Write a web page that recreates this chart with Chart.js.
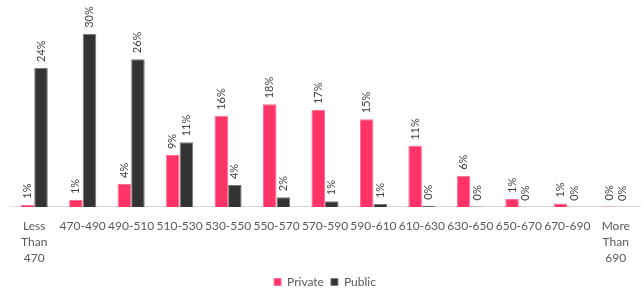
<!DOCTYPE html>
<html>
<head>
<meta charset="utf-8">
<script src="https://cdn.jsdelivr.net/npm/chart.js@4"></script>
<style>
html,body{margin:0;padding:0;background:#fff;}
canvas{display:block;}
</style>
</head>
<body>
<canvas id="c" width="643" height="291"></canvas>
<script>
const categories = [["Less","Than","470"],"470-490","490-510","510-530","530-550","550-570","570-590","590-610","610-630","630-650","650-670","670-690",["More","Than","690"]];
const privateValues = [0.4,1.2,4.0,9.0,15.8,17.8,16.8,15.2,10.6,5.4,1.4,0.6,0.1];
const publicValues = [24.1,30.0,25.6,11.2,3.8,1.7,1.0,0.5,0.2,0.1,0.05,0.03,0.02];
const privateLabels = ["1%","1%","4%","9%","16%","18%","17%","15%","11%","6%","1%","1%","0%"];
const publicLabels = ["24%","30%","26%","11%","4%","2%","1%","1%","0%","0%","0%","0%","0%"];
const seriesNames = ["Private","Public"];

const FONT = "Lato, 'Noto Sans', sans-serif";

const barLabels = {
  id: 'barLabels',
  afterDatasetsDraw(chart) {
    const ctx = chart.ctx;
    const all = [privateLabels, publicLabels];
    chart.data.datasets.forEach((ds, di) => {
      const meta = chart.getDatasetMeta(di);
      meta.data.forEach((el, i) => {
        ctx.save();
        ctx.translate(el.x, el.y - 6);
        ctx.rotate(-Math.PI / 2);
        ctx.font = "11px " + FONT;
        ctx.fillStyle = "#404040";
        ctx.textAlign = "left";
        ctx.textBaseline = "middle";
        ctx.fillText(all[di][i], 0, 0);
        ctx.restore();
      });
    });
  }
};

new Chart(document.getElementById('c'), {
  type: 'bar',
  data: {
    labels: categories,
    datasets: [
      {label: seriesNames[0], data: privateValues, backgroundColor: '#ff3366', borderColor: '#ff6f96', borderWidth: 1, categoryPercentage: 0.56, barPercentage: 1},
      {label: seriesNames[1], data: publicValues, backgroundColor: '#333333', borderColor: '#7a7a7a', borderWidth: 1, categoryPercentage: 0.56, barPercentage: 1}
    ]
  },
  options: {
    responsive: false,
    animation: false,
    devicePixelRatio: 1,
    layout: {padding: {top: 5, left: 10, right: 3, bottom: -7}},
    scales: {
      y: {display: false, min: 0, max: 35},
      x: {
        grid: {display: false},
        border: {display: true, color: '#d9d9d9'},
        ticks: {color: '#595959', font: {family: FONT, size: 12, lineHeight: 1.3334}, maxRotation: 0, autoSkip: false, padding: 3}
      }
    },
    plugins: {
      legend: {
        position: 'bottom',
        labels: {boxWidth: 7, boxHeight: 7, color: '#595959', font: {family: FONT, size: 12}, padding: 7}
      },
      tooltip: {enabled: false}
    }
  },
  plugins: [barLabels]
});
</script>
</body>
</html>
